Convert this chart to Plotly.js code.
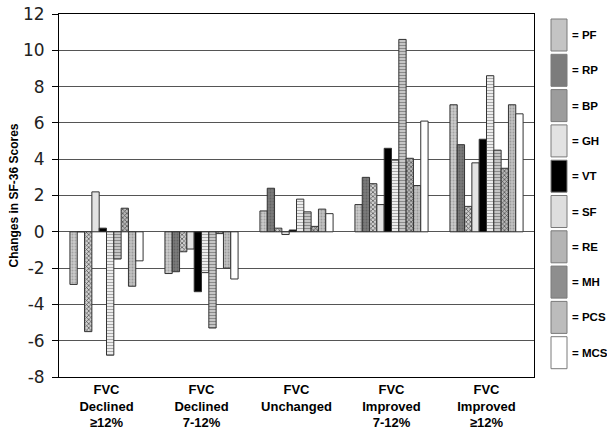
<!DOCTYPE html>
<html>
<head>
<meta charset="utf-8">
<script src="https://cdn.plot.ly/plotly-3.0.1.min.js"></script>
<style>html,body{margin:0;padding:0;background:#fff;}#chart{width:607px;height:431px;}</style>
</head>
<body>
<div id="chart"></div>
<script>
// Categories (x tick labels)
const categories = [
  "FVC<br>Declined<br>≥12%",
  "FVC<br>Declined<br>7-12%",
  "FVC<br>Unchanged",
  "FVC<br>Improved<br>7-12%",
  "FVC<br>Improved<br>≥12%"
];
// Series names
const seriesNames = ["PF", "RP", "BP", "GH", "VT", "SF", "RE", "MH", "PCS", "MCS"];
// Series values (one array per SF-36 domain, per category)
const PF  = [-2.9, -2.3, 1.15, 1.5, 7.0];
const RP  = [0.0, -2.2, 2.4, 3.0, 4.8];
const BP  = [-5.5, -1.1, 0.2, 2.65, 1.4];
const GH  = [2.2, -0.95, -0.15, 1.5, 3.8];
const VT  = [0.2, -3.3, 0.1, 4.6, 5.1];
const SF  = [-6.8, -2.25, 1.8, 3.95, 8.6];
const RE  = [-1.5, -5.3, 1.1, 10.6, 4.5];
const MH  = [1.3, -0.1, 0.3, 4.05, 3.5];
const PCS = [-3.0, -2.0, 1.25, 2.55, 7.0];
const MCS = [-1.6, -2.6, 1.0, 6.1, 6.5];
const seriesValues = [PF, RP, BP, GH, VT, SF, RE, MH, PCS, MCS];
// Y tick values
const yTicks = [-8, -6, -4, -2, 0, 2, 4, 6, 8, 10, 12];

// Styles
const styles = [
  {bg: "#cbcbcb", shape: ".", fg: "#a4a4a4", size: 3, sol: 0.35, legend: "#c4c4c4"},
  {bg: "#7a7a7a", shape: ".", fg: "#626262", size: 3, sol: 0.3, legend: "#7c7c7c"},
  {bg: "#d0d0d0", shape: "x", fg: "#4a4a4a", size: 3, sol: 0.4, legend: "#9c9c9c"},
  {bg: "#e3e3e3", shape: "", fg: "#e3e3e3", size: 4, sol: 0.3, legend: "#e2e2e2"},
  {bg: "#000000", shape: "", fg: "#000000", size: 4, sol: 0.3, legend: "#000000"},
  {bg: "#ececec", shape: "-", fg: "#a8a8a8", size: 3, sol: 0.35, legend: "#dedede"},
  {bg: "#c6c6c6", shape: "-", fg: "#8a8a8a", size: 3, sol: 0.35, legend: "#b4b4b4"},
  {bg: "#b8b8b8", shape: "x", fg: "#484848", size: 3, sol: 0.4, legend: "#8e8e8e"},
  {bg: "#c2c2c2", shape: ".", fg: "#9a9a9a", size: 3, sol: 0.3, legend: "#bcbcbc"},
  {bg: "#ffffff", shape: "", fg: "#ffffff", size: 4, sol: 0.3, legend: "#ffffff"}
];

const traces = seriesNames.map((name, i) => ({
  type: "bar",
  name: name,
  x: categories,
  y: seriesValues[i],
  marker: {
    color: styles[i].bg,
    line: {color: "#333333", width: 1},
    pattern: {shape: styles[i].shape, fgcolor: styles[i].fg, bgcolor: styles[i].bg,
              size: styles[i].size, solidity: styles[i].sol}
  },
  hoverinfo: "y+name"
}));

// Custom legend (boxes + labels) in paper coordinates
const plotL = 59, plotR = 534, plotT = 14, plotB = 377;
const pw = plotR - plotL, ph = plotB - plotT;
const px = v => (v - plotL) / pw;
const py = v => (plotB - v) / ph;
const shapes = [];
const annotations = [];
seriesNames.forEach((name, i) => {
  const cy = 35 + i * 35.3;
  shapes.push({
    type: "rect", xref: "paper", yref: "paper",
    x0: px(551), x1: px(567), y0: py(cy + 16), y1: py(cy - 16),
    fillcolor: styles[i].legend, line: {color: "#7a7a7a", width: 1}
  });
  annotations.push({
    xref: "paper", yref: "paper", x: px(570), y: py(cy),
    xanchor: "left", yanchor: "middle", showarrow: false,
    text: "= " + name,
    font: {family: "Liberation Sans, Arial, sans-serif", size: 11.5, color: "#000", weight: "bold"}
  });
});

const layout = {
  width: 607, height: 431,
  margin: {l: plotL, r: 607 - plotR, t: plotT, b: 431 - plotB, pad: 0},
  paper_bgcolor: "#ffffff", plot_bgcolor: "#ffffff",
  barmode: "group", bargap: 0.23, bargroupgap: 0,
  showlegend: false,
  xaxis: {
    type: "category",
    showline: true, linecolor: "#000", linewidth: 1, mirror: true,
    showgrid: false, ticks: "",
    tickfont: {family: "Liberation Sans, Arial, sans-serif", size: 13, color: "#000", weight: "bold"},
    automargin: false
  },
  yaxis: {
    range: [-8, 12], tickvals: yTicks, ticktext: yTicks.map(String),
    showline: true, linecolor: "#000", linewidth: 1, mirror: true,
    showgrid: true, gridcolor: "#555555", gridwidth: 1,
    zeroline: true, zerolinecolor: "#555555", zerolinewidth: 1,
    ticks: "outside", ticklen: 6, tickcolor: "#000", ticklabelstandoff: 4,
    tickfont: {family: "DejaVu Sans, Verdana, sans-serif", size: 17, color: "#222"},
    title: {text: "Changes in SF-36 Scores", standoff: 1,
            font: {family: "Liberation Sans, Arial, sans-serif", size: 12, color: "#000", weight: "bold"}},
    automargin: false
  },
  shapes: shapes,
  annotations: annotations
};

Plotly.newPlot("chart", traces, layout, {displayModeBar: false, staticPlot: true});
</script>
</body>
</html>
